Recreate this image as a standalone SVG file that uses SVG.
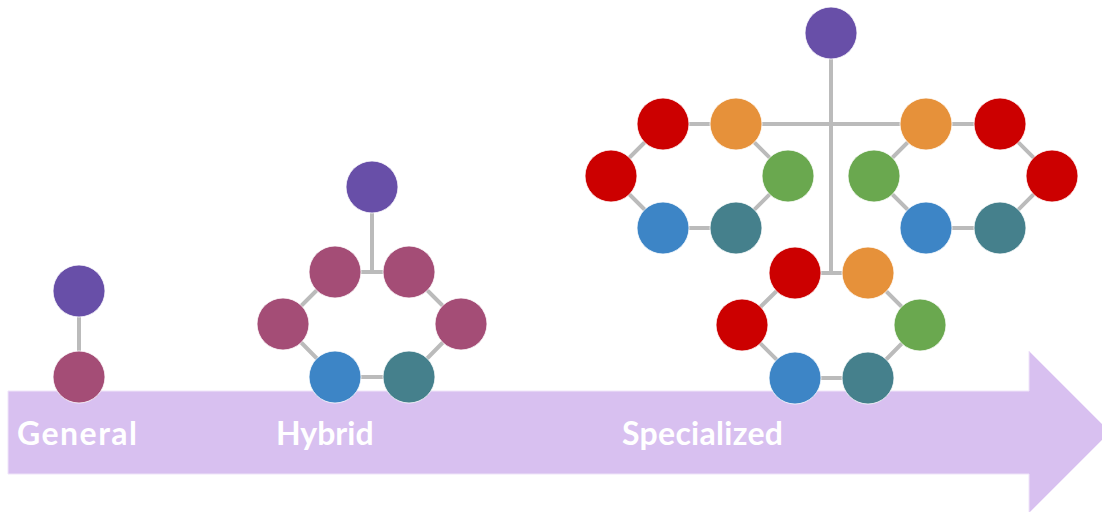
<svg xmlns="http://www.w3.org/2000/svg" width="1102" height="512" viewBox="0 0 1102 512">
<style>
.e{stroke:#BBBBBB;stroke-width:4;fill:none}
.n{stroke:#FFFFFF;stroke-width:0.8}
.pu{fill:#684FA8}.ma{fill:#A44D76}.bl{fill:#3D85C6}.te{fill:#45808C}
.rd{fill:#CC0000}.or{fill:#E6913A}.gr{fill:#6AA84F}
.lbl{font-family:Lato,"Open Sans",sans-serif;font-weight:bold;font-size:32px;fill:#FFFFFF}
</style>
<rect width="1102" height="512" fill="#FFFFFF"/>
<g id="arrow">
<polygon points="8,391 1029,391 1029,351 1110,432 1029,513 1029,474 8,474" fill="#D8C0F0" stroke="#EFE4F9" stroke-width="1"/>
</g>
<g id="connectors">
<line class="e" x1="79" y1="291" x2="79" y2="377"/>
<path class="e" d="M372,187 V272 M335,272 H409 L461,324 L409,377 H335 L283,324 Z"/>
<path class="e" d="M831,33 V273 M736,124 H926"/>
<path class="e" d="M663,124 H736 L788,176 L736,228 H663 L611,176 Z"/>
<path class="e" d="M926,124 H1000 L1052,176 L1000,228 H926 L874,176 Z"/>
<path class="e" d="M795,273 H868 L920,325 L868,378 H795 L742,325 Z"/>
</g>
<g id="general">
<circle class="n pu" cx="79" cy="291" r="26"/>
<circle class="n ma" cx="79" cy="377" r="26"/>
</g>
<g id="hybrid">
<circle class="n pu" cx="372" cy="187" r="26"/>
<circle class="n ma" cx="335" cy="272" r="26"/>
<circle class="n ma" cx="409" cy="272" r="26"/>
<circle class="n ma" cx="283" cy="324" r="26"/>
<circle class="n ma" cx="461" cy="324" r="26"/>
<circle class="n bl" cx="335" cy="377" r="26"/>
<circle class="n te" cx="409" cy="377" r="26"/>
</g>
<g id="specialized">
<circle class="n pu" cx="831" cy="33" r="26"/>
<g id="spec-left">
<circle class="n rd" cx="663" cy="124" r="26"/>
<circle class="n or" cx="736" cy="124" r="26"/>
<circle class="n rd" cx="611" cy="176" r="26"/>
<circle class="n gr" cx="788" cy="176" r="26"/>
<circle class="n bl" cx="663" cy="228" r="26"/>
<circle class="n te" cx="736" cy="228" r="26"/>
</g>
<g id="spec-right">
<circle class="n or" cx="926" cy="124" r="26"/>
<circle class="n rd" cx="1000" cy="124" r="26"/>
<circle class="n gr" cx="874" cy="176" r="26"/>
<circle class="n rd" cx="1052" cy="176" r="26"/>
<circle class="n bl" cx="926" cy="228" r="26"/>
<circle class="n te" cx="1000" cy="228" r="26"/>
</g>
<g id="spec-bottom">
<circle class="n rd" cx="795" cy="273" r="26"/>
<circle class="n or" cx="868" cy="273" r="26"/>
<circle class="n rd" cx="742" cy="325" r="26"/>
<circle class="n gr" cx="920" cy="325" r="26"/>
<circle class="n bl" cx="795" cy="378" r="26"/>
<circle class="n te" cx="868" cy="378" r="26"/>
</g>
</g>
<g id="labels">
<text class="lbl" x="17" y="445" textLength="120" lengthAdjust="spacing">General</text>
<text class="lbl" x="276" y="445">Hybrid</text>
<text class="lbl" x="622" y="445" textLength="161" lengthAdjust="spacing">Specialized</text>
</g>
</svg>
